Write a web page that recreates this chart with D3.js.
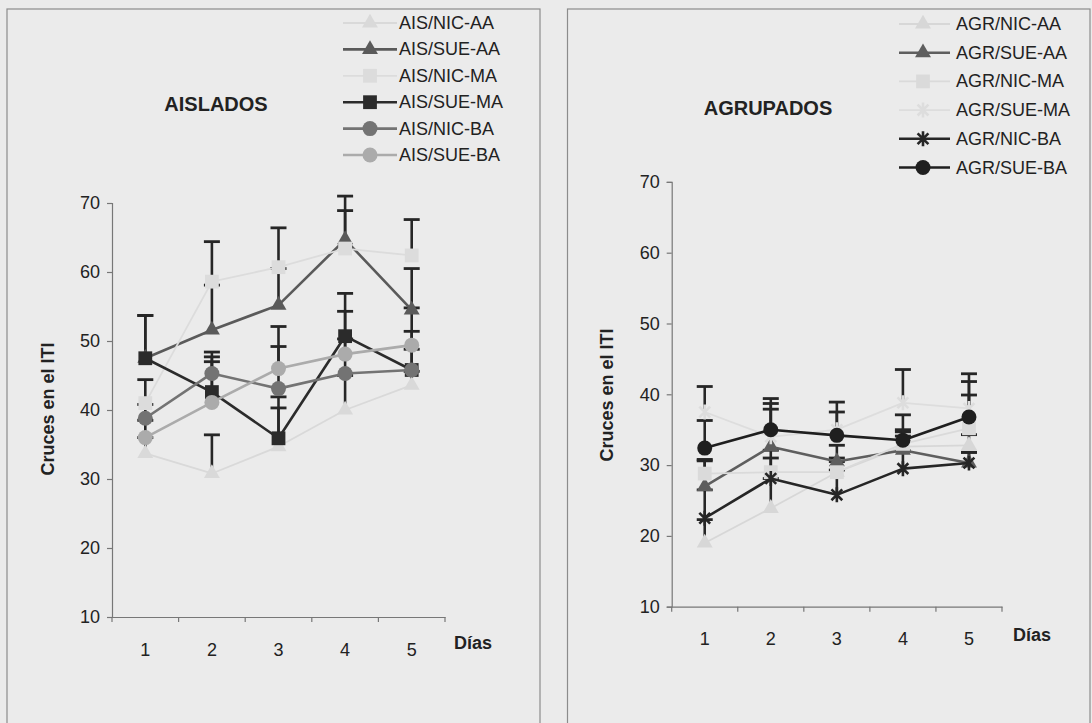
<!DOCTYPE html>
<html>
<head>
<meta charset="utf-8">
<script src="https://cdn.jsdelivr.net/npm/d3@7"></script>
<style>
  html, body { margin: 0; padding: 0; background: #ebebeb; }
  svg { display: block; font-family: "Liberation Sans", Arial, sans-serif; }
</style>
</head>
<body>
<svg id="chart" width="1092" height="723"></svg>
<script>
// ---- data ----------------------------------------------------------
const days = [1, 2, 3, 4, 5];
const yTicks = [10, 20, 30, 40, 50, 60, 70];

// AISLADOS: mean crossings per day and upper error (SEM)
const aisNames = ["AIS/NIC-AA", "AIS/SUE-AA", "AIS/NIC-MA", "AIS/SUE-MA", "AIS/NIC-BA", "AIS/SUE-BA"];
const aisNicAA = [33.7, 30.8, 34.7, 40.0, 43.6];
const aisSueAA = [47.5, 51.6, 55.2, 64.7, 54.5];
const aisNicMA = [41.0, 58.6, 60.7, 63.4, 62.4];
const aisSueMA = [47.5, 42.6, 35.9, 50.7, 45.8];
const aisNicBA = [38.8, 45.3, 43.1, 45.3, 45.8];
const aisSueBA = [36.0, 41.1, 46.0, 48.1, 49.4];
const aisNicAAErr = [2.3, 5.6, 5.6, 5.0, 2.0];
const aisSueAAErr = [6.2, 6.5, 5.3, 6.3, 6.0];
const aisNicMAErr = [3.4, 5.8, 5.7, 5.5, 5.2];
const aisSueMAErr = [6.2, 4.4, 6.0, 6.2, 5.6];
const aisNicBAErr = [2.0, 3.1, 6.1, 5.0, 3.0];
const aisSueBAErr = [2.5, 6.6, 6.1, 6.2, 5.4];

// AGRUPADOS
const agrNames = ["AGR/NIC-AA", "AGR/SUE-AA", "AGR/NIC-MA", "AGR/SUE-MA", "AGR/NIC-BA", "AGR/SUE-BA"];
const agrNicAA = [19.0, 23.9, 29.0, 32.6, 32.8];
const agrSueAA = [27.0, 32.6, 30.5, 32.1, 30.3];
const agrNicMA = [28.8, 29.0, 29.0, 33.0, 35.2];
const agrSueMA = [37.5, 34.0, 35.0, 38.8, 38.0];
const agrNicBA = [22.5, 28.1, 25.8, 29.5, 30.3];
const agrSueBA = [32.4, 35.0, 34.2, 33.5, 36.8];
const agrNicAAErr = [3.3, 4.2, 1.5, 1.5, 1.5];
const agrSueAAErr = [3.6, 5.3, 2.3, 2.6, 1.5];
const agrNicMAErr = [2.0, 2.0, 2.0, 2.0, 4.7];
const agrSueMAErr = [3.6, 4.7, 2.5, 4.7, 3.8];
const agrNicBAErr = [4.0, 4.0, 3.5, 2.5, 1.5];
const agrSueBAErr = [3.9, 4.4, 4.7, 3.6, 6.1];

// ---- styles ----------------------------------------------------------
const aisStyle = [
  { color: "#d9d9d9", width: 1.8, shape: "triangle" },
  { color: "#5a5a5a", width: 2.6, shape: "triangle" },
  { color: "#dcdcdc", width: 1.8, shape: "square" },
  { color: "#2b2b2b", width: 2.6, shape: "square" },
  { color: "#737373", width: 2.6, shape: "circle" },
  { color: "#ababab", width: 2.6, shape: "circle" }
];
const agrStyle = [
  { color: "#d7d7d7", width: 1.8, shape: "triangle" },
  { color: "#5e5e5e", width: 2.6, shape: "triangle" },
  { color: "#dadada", width: 1.8, shape: "square" },
  { color: "#dddddd", width: 1.8, shape: "star" },
  { color: "#262626", width: 2.6, shape: "star" },
  { color: "#1f1f1f", width: 2.6, shape: "circle" }
];

const panels = [
  {
    title: "AISLADOS", titleX: 216, titleY: 104,
    frame: [7, 9, 540, 740],
    xRange: [112, 445], yRange: [617, 203],
    yTitleX: 48, yTitleY: 409, diasX: 473, diasY: 643,
    legend: { x0: 343, x1: 397, mx: 370, tx: 399, y0: 23, dy: 26.4 },
    series: [aisNicAA, aisSueAA, aisNicMA, aisSueMA, aisNicBA, aisSueBA],
    errors: [aisNicAAErr, aisSueAAErr, aisNicMAErr, aisSueMAErr, aisNicBAErr, aisSueBAErr],
    names: aisNames, styles: aisStyle
  },
  {
    title: "AGRUPADOS", titleX: 768, titleY: 108,
    frame: [567.5, 9, 1090, 740],
    xRange: [671.7, 1002], yRange: [606.7, 181.9],
    yTitleX: 607, yTitleY: 395, diasX: 1032, diasY: 635,
    legend: { x0: 899, x1: 950, mx: 923, tx: 956, y0: 24, dy: 28.7 },
    series: [agrNicAA, agrSueAA, agrNicMA, agrSueMA, agrNicBA, agrSueBA],
    errors: [agrNicAAErr, agrSueAAErr, agrNicMAErr, agrSueMAErr, agrNicBAErr, agrSueBAErr],
    names: agrNames, styles: agrStyle
  }
];

const svg = d3.select("#chart");
svg.append("rect").attr("width", 1092).attr("height", 723).attr("fill", "#ebebeb");

// marker drawing: symbol shapes centred at (0,0)
function drawMarker(g, shape, color) {
  if (shape === "circle") {
    g.append("circle").attr("r", 7.5).attr("fill", color);
  } else if (shape === "square") {
    g.append("path").attr("d", d3.symbol(d3.symbolSquare, 190)()).attr("fill", color);
  } else if (shape === "triangle") {
    g.append("path").attr("d", d3.symbol(d3.symbolTriangle, 110)()).attr("fill", color);
  } else if (shape === "star") {
    const r = 7.5, d = r * 0.72;
    g.append("path")
      .attr("d", `M0,${-r}L0,${r}M${-d},${-d}L${d},${d}M${-d},${d}L${d},${-d}`)
      .attr("stroke", color).attr("stroke-width", 2.6).attr("fill", "none");
  }
}

panels.forEach(p => {
  const [fx0, fy0, fx1, fy1] = p.frame;
  svg.append("rect")
    .attr("x", fx0).attr("y", fy0).attr("width", fx1 - fx0).attr("height", fy1 - fy0)
    .attr("fill", "#ebebeb").attr("stroke", "#8c8c8c").attr("stroke-width", 1.2);

  const x = d3.scaleBand().domain(days).range(p.xRange).paddingInner(0).paddingOuter(0);
  const y = d3.scaleLinear().domain([10, 70]).range(p.yRange);
  const cx = d => x(d) + x.bandwidth() / 2;

  // y axis
  const yAxis = svg.append("g")
    .attr("transform", `translate(${p.xRange[0]},0)`)
    .call(d3.axisLeft(y).tickValues(yTicks).tickSize(5).tickPadding(7).tickFormat(d3.format("d")));
  yAxis.select(".domain").attr("stroke", "#777").attr("stroke-width", 1.2);
  yAxis.selectAll(".tick line").attr("stroke", "#777").attr("stroke-width", 1.2);
  yAxis.selectAll("text").attr("font-size", 18).attr("fill", "#222")
    .attr("font-family", "Liberation Sans, Arial, sans-serif");

  // x axis: labels at band centres, ticks at band boundaries
  const xAxis = svg.append("g")
    .attr("transform", `translate(0,${p.yRange[0]})`)
    .call(d3.axisBottom(x).tickSize(0).tickPadding(26).tickSizeOuter(0));
  xAxis.select(".domain").attr("stroke", "#777").attr("stroke-width", 1.2);
  xAxis.selectAll("text").attr("font-size", 18).attr("fill", "#222")
    .attr("font-family", "Liberation Sans, Arial, sans-serif");
  const bounds = days.map(d => x(d)).concat([x(days[days.length - 1]) + x.bandwidth()]);
  xAxis.selectAll("line.bound").data(bounds).enter().append("line")
    .attr("class", "bound")
    .attr("x1", d => d).attr("x2", d => d).attr("y1", 0).attr("y2", 5)
    .attr("stroke", "#777").attr("stroke-width", 1.2);

  // titles
  svg.append("text").attr("x", p.titleX).attr("y", p.titleY)
    .attr("text-anchor", "middle").attr("dominant-baseline", "central")
    .attr("font-size", 20).attr("font-weight", "bold").attr("fill", "#222").text(p.title);
  svg.append("text")
    .attr("transform", `translate(${p.yTitleX},${p.yTitleY}) rotate(-90)`)
    .attr("text-anchor", "middle").attr("dominant-baseline", "central")
    .attr("font-size", 18).attr("font-weight", "bold").attr("fill", "#222").text("Cruces en el ITI");
  svg.append("text").attr("x", p.diasX).attr("y", p.diasY)
    .attr("text-anchor", "middle").attr("dominant-baseline", "central")
    .attr("font-size", 18).attr("font-weight", "bold").attr("fill", "#222").text("Días");

  // error bars (upper only)
  const eg = svg.append("g");
  p.series.forEach((vals, si) => {
    vals.forEach((v, di) => {
      const e = p.errors[si][di];
      const xx = cx(days[di]);
      eg.append("line").attr("x1", xx).attr("x2", xx).attr("y1", y(v)).attr("y2", y(v + e))
        .attr("stroke", "#262626").attr("stroke-width", 2.6);
      eg.append("line").attr("x1", xx - 8).attr("x2", xx + 8).attr("y1", y(v + e)).attr("y2", y(v + e))
        .attr("stroke", "#262626").attr("stroke-width", 2.8);
    });
  });

  // series lines and markers
  const line = d3.line().x((v, i) => cx(days[i])).y(v => y(v));
  p.series.forEach((vals, si) => {
    const st = p.styles[si];
    svg.append("path").attr("d", line(vals)).attr("fill", "none")
      .attr("stroke", st.color).attr("stroke-width", st.width).attr("stroke-linejoin", "round");
    vals.forEach((v, di) => {
      const g = svg.append("g").attr("transform", `translate(${cx(days[di])},${y(v)})`);
      drawMarker(g, st.shape, st.color);
    });
  });

  // legend
  const L = p.legend;
  p.names.forEach((name, i) => {
    const st = p.styles[i];
    const ly = L.y0 + i * L.dy;
    svg.append("line").attr("x1", L.x0).attr("x2", L.x1).attr("y1", ly).attr("y2", ly)
      .attr("stroke", st.color).attr("stroke-width", st.width);
    const g = svg.append("g").attr("transform", `translate(${L.mx},${ly})`);
    drawMarker(g, st.shape, st.color);
    svg.append("text").attr("x", L.tx).attr("y", ly).attr("dominant-baseline", "central")
      .attr("font-size", 18).attr("fill", "#222").text(name);
  });
});
</script>
</body>
</html>
